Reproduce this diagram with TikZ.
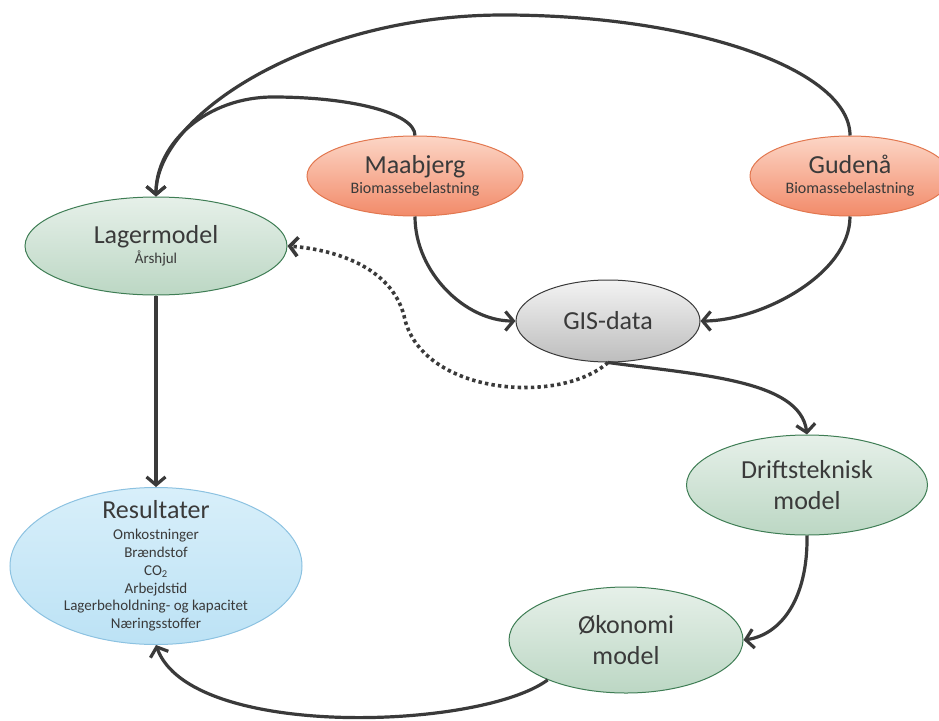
\documentclass[tikz,border=0pt]{standalone}
\usepackage{fontspec}
\setmainfont{Carlito}
\usetikzlibrary{shapes.geometric,arrows.meta}
\definecolor{greentop}{HTML}{E6F0E9}
\definecolor{greenbot}{HTML}{BCD7C4}
\definecolor{greenline}{HTML}{3E7D54}
\definecolor{redtop}{HTML}{FCD6C6}
\definecolor{redbot}{HTML}{F28A69}
\definecolor{redline}{HTML}{E2774F}
\definecolor{graytop}{HTML}{F3F3F3}
\definecolor{graybot}{HTML}{BDBDBD}
\definecolor{grayline}{HTML}{3A3A3A}
\definecolor{bluetop}{HTML}{D8EFFA}
\definecolor{bluebot}{HTML}{BCE2F5}
\definecolor{blueline}{HTML}{8CC2E1}
\definecolor{textgray}{HTML}{3A3A3A}
\definecolor{linegray}{HTML}{3A3A3A}
\newcommand\titlefont{\fontsize{26}{26}\selectfont}
\newcommand\subfont{\fontsize{15}{18}\selectfont}

\begin{document}
\begin{tikzpicture}[x=1pt,y=-1pt,
  bubble/.style={ellipse,inner sep=0pt,align=center,text=textgray,line width=1pt,node font=\subfont},
  greenbubble/.style={bubble,draw=greenline,top color=greentop,bottom color=greenbot},
  redbubble/.style={bubble,draw=redline,top color=redtop,bottom color=redbot},
  graybubble/.style={bubble,draw=grayline,top color=graytop,bottom color=graybot},
  bluebubble/.style={bubble,draw=blueline,top color=bluetop,bottom color=bluebot},
  twolines/.style={node font=\fontsize{26}{31.5}\selectfont},
  link/.style={draw=linegray,line width=3.2pt,-{Straight Barb[length=8pt,width=19pt]}},
  dotlink/.style={link,line width=3.6pt,dash pattern=on 3.4pt off 3.2pt}]
\useasboundingbox (0,0) rectangle (939,720);
\node[greenbubble,minimum width=262pt,minimum height=98pt] (lager) at (156,246) {{\titlefont Lagermodel}\\[2pt] Årshjul};
\node[redbubble,minimum width=216pt,minimum height=80pt,node font=\fontsize{16}{18}\selectfont] (maabjerg) at (415,176) {{\titlefont Maabjerg}\\[2pt] Biomassebelastning};
\node[redbubble,minimum width=200pt,minimum height=80pt,node font=\fontsize{16}{18}\selectfont] (gudenaa) at (850,176) {{\titlefont Gudenå}\\[2pt] Biomassebelastning};
\node[graybubble,minimum width=184pt,minimum height=82pt,node font=\titlefont] (gis) at (608,321) {GIS-data};
\node[greenbubble,twolines,minimum width=241pt,minimum height=100pt] (drift) at (807,485) {Driftsteknisk\\model};
\node[greenbubble,twolines,minimum width=234pt,minimum height=106pt] (okonomi) at (626,640) {Økonomi\\model};
\node[bluebubble,minimum width=292pt,minimum height=157pt,inner ysep=-14pt,node font=\fontsize{15}{17.8}\selectfont] (result) at (156,566)
  {{\titlefont Resultater}\\[3pt] Omkostninger\\ Brændstof\\ CO\textsubscript{2}\\ Arbejdstid\\ Lagerbeholdning- og kapacitet\\ Næringsstoffer};
\coordinate (gudtop) at (503,15);
\coordinate (maatop) at (273,97);
\coordinate (dotbend) at (405,320);
\draw[link] (lager) -- (result);
\draw[link] (gudenaa.north) .. controls (850,70) and (695,15) .. (gudtop) .. controls (311,15) and (156,115) .. (lager.north);
\draw[link] (maabjerg.north) .. controls (415,113) and (351,97) .. (maatop) .. controls (208,97) and (156,142) .. (lager.north);
\draw[link] (maabjerg.south) .. controls (415,272) and (465,321) .. (gis.west);
\draw[link] (gudenaa.south) .. controls (850,275) and (760,321) .. (gis.east);
\draw[link] (gis.south) .. controls (700,375) and (800,380) .. (drift.north);
\draw[link] (drift.south) .. controls (808,600) and (780,635) .. (okonomi.east);
\draw[link] (okonomi.207) .. controls (480,730) and (190,740) .. (result.south);
\draw[dotlink] (gis.south) .. controls (560,405) and (425,395) .. (dotbend) .. controls (395,270) and (340,250) .. (lager.east);
\end{tikzpicture}
\end{document}
